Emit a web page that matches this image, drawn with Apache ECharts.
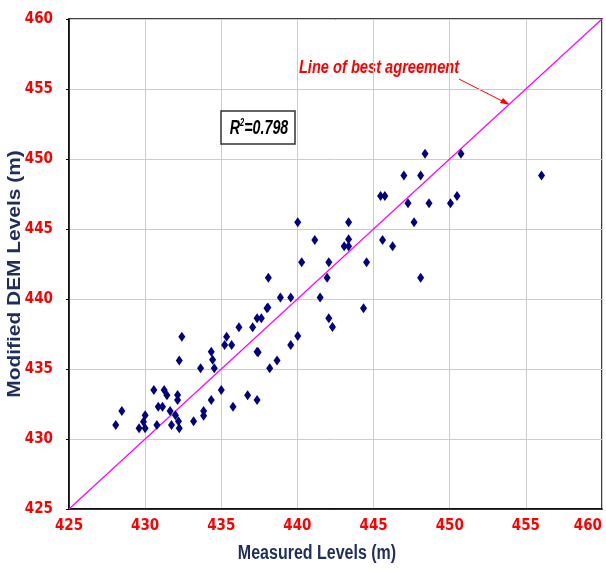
<!DOCTYPE html>
<html>
<head>
<meta charset="utf-8">
<script src="https://cdn.jsdelivr.net/npm/echarts@6/dist/echarts.min.js"></script>
<style>
html,body{margin:0;padding:0;background:#fff;}
#c{width:606px;height:573px;}
</style>
</head>
<body>
<div id="c"></div>
<script>
const measured = [428.07,428.47,429.6,429.89,430.0,430.0,430.57,430.77,430.86,431.14,431.25,431.43,431.64,431.73,431.99,432.13,432.13,432.19,432.24,432.24,432.41,433.18,433.64,433.84,433.84,434.34,434.43,434.54,434.34,435.0,435.22,435.35,435.68,435.77,436.16,436.73,437.06,437.35,437.35,437.42,437.35,437.63,438.0,438.06,438.09,438.18,438.66,438.88,439.56,439.56,440.02,440.02,440.28,441.14,441.49,441.95,442.06,442.06,442.3,443.07,443.36,443.36,443.36,444.34,444.54,445.46,445.74,445.59,446.25,446.99,447.26,447.66,448.09,448.09,448.38,448.64,450.05,450.48,450.74,456.03];
const modified = [431.0,432.0,430.76,431.24,431.7,430.76,433.5,431.0,432.31,432.31,433.5,433.12,432.0,431.0,431.7,433.14,432.79,431.26,430.76,435.6,437.31,431.26,435.05,432.0,431.66,436.24,435.66,435.05,432.79,433.5,436.71,437.31,436.71,432.31,437.98,433.12,437.98,438.62,436.24,436.2,432.79,438.62,439.34,439.4,441.52,435.05,435.6,440.1,440.1,436.71,437.36,445.48,442.62,444.21,440.1,441.52,442.62,438.62,438.0,443.76,443.76,444.26,445.48,439.34,442.62,447.36,447.36,444.21,443.76,448.83,446.84,445.48,448.83,441.52,450.38,446.84,446.84,447.36,450.38,448.83];
const bestLine = [[425,425],[460,460]];
const xTicks = [425,430,435,440,445,450,455,460];
const yTicks = [425,430,435,440,445,450,455,460];

const narrow = "'DejaVu Sans Condensed','Liberation Sans Narrow',sans-serif";
const sans = "'Liberation Sans',Arial,sans-serif";
const chart = echarts.init(document.getElementById('c'));
const pts = measured.map((x,i)=>[x, modified[i]]);

chart.setOption({
  animation:false,
  grid:{left:69,right:4,top:19,bottom:64,outerBoundsMode:'none',containLabel:false,show:true,borderColor:'#000',borderWidth:1.5,backgroundColor:'#fff'},
  xAxis:{
    type:'value',min:xTicks[0],max:xTicks[xTicks.length-1],interval:5,
    axisLine:{show:true,lineStyle:{color:'#000',width:1.5}},
    axisTick:{show:false},
    axisLabel:{color:'#FF0000',fontFamily:narrow,fontWeight:'bold',fontSize:15,margin:10,alignMaxLabel:'right'},
    splitLine:{show:true,lineStyle:{color:'#CCCCCC',width:1}}
  },
  yAxis:{
    type:'value',min:yTicks[0],max:yTicks[yTicks.length-1],interval:5,
    axisLine:{show:true,lineStyle:{color:'#000',width:1.5}},
    axisTick:{show:true,length:3,lineStyle:{color:'#000'}},
    axisLabel:{color:'#FF0000',fontFamily:narrow,fontWeight:'bold',fontSize:15,margin:16},
    splitLine:{show:true,lineStyle:{color:'#CCCCCC',width:1}}
  },
  series:[
    {type:'line',data:bestLine,symbol:'none',lineStyle:{color:'#FF00FF',width:1.2},z:2,silent:true},
    {type:'scatter',data:pts,symbol:'diamond',symbolSize:[7,10],itemStyle:{color:'#000080',opacity:1},z:3}
  ],
  graphic:[
    {type:'text',x:317,y:553,scaleX:0.8,style:{text:'Measured Levels (m)',fill:'#1F2E5C',font:"bold 20px "+sans,align:'center',verticalAlign:'middle'}},
    {type:'text',x:15,y:274,rotation:Math.PI/2,scaleX:1.1,style:{text:'Modified DEM Levels (m)',fill:'#1F2E5C',font:"bold 19px "+sans,align:'center',verticalAlign:'middle'}},
    {type:'text',x:379,y:68,scaleX:0.77,style:{text:'Line of best agreement',fill:'#FF0000',font:"italic bold 19px "+sans,align:'center',verticalAlign:'middle'}},
    {type:'line',shape:{x1:459,y1:79,x2:506,y2:103},style:{stroke:'#FF0000',lineWidth:1}},
    {type:'polygon',shape:{points:[[510,105],[500,103],[503,98]]},style:{fill:'#FF0000'}},
    {type:'rect',shape:{x:221,y:111,width:74,height:33},style:{fill:'#fff',stroke:'#333',lineWidth:1.5},z:10},
    {type:'text',x:259,y:128,scaleX:0.68,z:11,style:{align:'center',verticalAlign:'middle',rich:{a:{font:"italic bold 21px "+sans,fill:'#000'},s:{font:"italic bold 11px "+sans,fill:'#000',verticalAlign:'top',padding:[0,0,10,0]}},text:'{a|R}{s|2}{a|=0.798}'}}
  ]
});
</script>
</body>
</html>
